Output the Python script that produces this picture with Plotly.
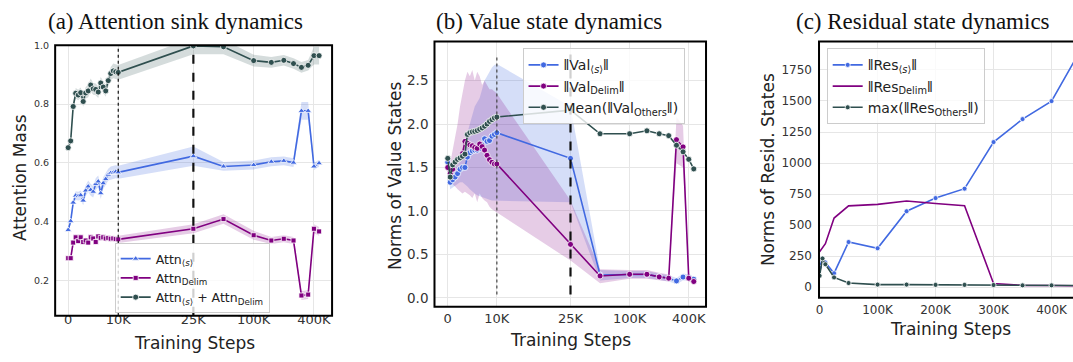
import math
import plotly.graph_objects as go

# ---------------- data ----------------
steps_ab = [0, 500, 1000, 1500, 2000, 2500, 3000, 3500, 4000, 4500, 5000,
            5500, 6000, 6500, 7000, 7500, 8000, 8500, 9000, 9500, 10000,
            25000, 50000, 100000, 150000, 200000, 250000, 300000, 350000, 400000, 450000]

tick_steps = [0, 10000, 25000, 100000, 400000]
tick_text = ["0", "10K", "25K", "100K", "400K"]

# (a) attention mass
attn_s = [0.372, 0.402, 0.465, 0.489, 0.487, 0.490, 0.472, 0.506, 0.520, 0.508, 0.502,
          0.528, 0.537, 0.497, 0.531, 0.545, 0.560, 0.566, 0.567, 0.570, 0.568,
          0.623, 0.588, 0.593, 0.604, 0.607, 0.601, 0.777, 0.777, 0.588, 0.599]
attn_s_spread = [0.008, 0.010, 0.012, 0.015, 0.015, 0.016, 0.016, 0.018, 0.020, 0.020, 0.020,
                 0.020, 0.020, 0.020, 0.020, 0.020, 0.020, 0.022, 0.022, 0.022, 0.022,
                 0.033, 0.015, 0.015, 0.015, 0.015, 0.015, 0.030, 0.030, 0.012, 0.012]
attn_delim = [0.276, 0.276, 0.329, 0.347, 0.334, 0.347, 0.331, 0.336, 0.329, 0.347, 0.343,
              0.331, 0.350, 0.345, 0.347, 0.343, 0.345, 0.342, 0.343, 0.341, 0.340,
              0.376, 0.409, 0.354, 0.336, 0.342, 0.336, 0.149, 0.152, 0.376, 0.367]
attn_delim_spread = [0.006, 0.006, 0.010, 0.010, 0.010, 0.010, 0.010, 0.010, 0.010, 0.010, 0.010,
                     0.010, 0.010, 0.010, 0.010, 0.010, 0.010, 0.010, 0.010, 0.010, 0.012,
                     0.015, 0.016, 0.015, 0.012, 0.012, 0.012, 0.015, 0.015, 0.015, 0.015]
attn_sum = [0.652, 0.675, 0.792, 0.837, 0.831, 0.839, 0.809, 0.838, 0.845, 0.865, 0.852,
            0.850, 0.841, 0.872, 0.858, 0.845, 0.880, 0.904, 0.913, 0.910, 0.908,
            0.998, 0.995, 0.948, 0.942, 0.949, 0.938, 0.925, 0.932, 0.965, 0.965]
attn_sum_spread = [0.008, 0.010, 0.012, 0.018, 0.018, 0.018, 0.018, 0.020, 0.022, 0.022, 0.020,
                   0.020, 0.020, 0.020, 0.020, 0.020, 0.020, 0.022, 0.025, 0.025, 0.025,
                   0.028, 0.025, 0.020, 0.018, 0.018, 0.018, 0.018, 0.018, 0.030, 0.030]

# (b) value-state norms
val_s = [1.56, 1.33, 1.36, 1.39, 1.43, 1.48, 1.50, 1.50, 1.62, 1.67, 1.69,
         1.70, 1.70, 1.72, 1.76, 1.83, 1.80, 1.81, 1.86, 1.88, 1.90,
         1.605, 0.264, 0.270, 0.270, 0.245, 0.225, 0.196, 0.240, 0.234, 0.215]
val_s_lo = [1.48, 1.25, 1.27, 1.29, 1.31, 1.33, 1.33, 1.30, 1.28, 1.25, 1.22,
            1.20, 1.18, 1.17, 1.16, 1.15, 1.14, 1.13, 1.12, 1.12, 1.12,
            1.10, 0.20, 0.23, 0.23, 0.21, 0.19, 0.16, 0.20, 0.20, 0.19]
val_s_hi = [1.64, 1.42, 1.46, 1.50, 1.55, 1.65, 1.70, 1.72, 1.90, 2.00, 2.10,
            2.20, 2.25, 2.30, 2.40, 2.50, 2.55, 2.60, 2.65, 2.68, 2.69,
            2.20, 0.32, 0.31, 0.31, 0.28, 0.26, 0.23, 0.28, 0.27, 0.24]
val_delim = [1.50, 1.43, 1.48, 1.55, 1.59, 1.62, 1.66, 1.80, 1.78, 1.76, 1.75,
             1.73, 1.72, 1.77, 1.74, 1.70, 1.64, 1.59, 1.56, 1.54, 1.54,
             0.616, 0.253, 0.272, 0.272, 0.242, 0.227, 1.82, 1.737, 0.227, 0.189]
val_delim_lo = [1.45, 1.33, 1.30, 1.28, 1.25, 1.22, 1.20, 1.22, 1.20, 1.18, 1.15,
                1.20, 1.10, 1.20, 1.15, 1.12, 1.10, 1.05, 1.02, 1.00, 0.98,
                0.43, 0.17, 0.22, 0.22, 0.20, 0.19, 1.55, 1.50, 0.19, 0.16]
val_delim_hi = [1.62, 1.55, 1.70, 1.85, 2.00, 2.20, 2.35, 2.50, 2.60, 2.55, 2.62,
                2.50, 2.60, 2.55, 2.45, 2.50, 2.45, 2.40, 2.40, 2.38, 2.35,
                1.12, 0.33, 0.32, 0.32, 0.29, 0.27, 2.08, 1.98, 0.26, 0.22]
val_others = [1.605, 1.39, 1.53, 1.563, 1.594, 1.61, 1.63, 1.654, 1.88, 1.90, 1.91,
              1.915, 1.925, 1.94, 1.955, 1.975, 2.00, 2.03, 2.05, 2.07, 2.08,
              2.16, 1.888, 1.888, 1.922, 1.888, 1.866, 1.756, 1.68, 1.594, 1.484]

# (c) residual-state norms
steps_c = [0, 5000, 10000, 25000, 50000, 100000, 150000, 200000, 250000,
           300000, 350000, 400000, 450000]
res_s = [158, 232, 200, 113, 364, 314, 612, 718, 794, 1169, 1354, 1499, 1910]
res_delim = [285, 320, 351, 557, 655, 667, 694, 675, 657, 30, 15, 14, 12]
res_others = [92, 232, 185, 79, 34, 21, 21, 19, 19, 18, 15, 15, 13]
c_ticks = [0, 100000, 200000, 300000, 400000]
c_tick_text = ["0", "100K", "200K", "300K", "400K"]

# ---------------- styling ----------------
BLUE = "#4169E1"
PURPLE = "#800080"
GRAY = "#2F4F4F"
BLUE_F = "rgba(65,105,225,0.22)"
PURPLE_F = "rgba(128,0,128,0.20)"
GRAY_F = "rgba(47,79,79,0.20)"
FONT = "DejaVu Sans"
W, H = 1073, 362
NORM = "‖"


def step_axis(s):
    """Piecewise axis scale: linear up to 25K, logarithmic beyond."""
    if s <= 25000:
        return s / 10000.0
    return 2.5 + 2.0 * math.log10(s / 25000.0)


xab = [step_axis(s) for s in steps_ab]
tickpos = [step_axis(s) for s in tick_steps]


def px_x(p):
    return p / W


def px_y(p):
    return 1 - p / H


fig = go.Figure()


def band(xs, lo, hi, color, xa, ya):
    fig.add_trace(go.Scatter(
        x=list(xs) + list(xs)[::-1], y=list(hi) + list(lo)[::-1],
        fill="toself", fillcolor=color, line=dict(width=0), mode="lines",
        hoverinfo="skip", showlegend=False, xaxis=xa, yaxis=ya))


def line(xs, ys, color, name, xa, ya, legend, symbol="circle", size=5, markers=True):
    fig.add_trace(go.Scatter(
        x=xs, y=ys, name=name, xaxis=xa, yaxis=ya, legend=legend,
        mode="lines+markers" if markers else "lines",
        line=dict(color=color, width=1.6),
        marker=dict(symbol=symbol, size=size, color=color,
                    line=dict(color="white", width=0.8))))


def norm(body):
    return '<span style="font-family:Liberation Sans">' + NORM + '</span>' + body + \
           '<span style="font-family:Liberation Sans">' + NORM + '</span>'


# ---- panel (a)
for vals, spr, col in [(attn_s, attn_s_spread, BLUE_F),
                       (attn_delim, attn_delim_spread, PURPLE_F),
                       (attn_sum, attn_sum_spread, GRAY_F)]:
    band(xab, [v - d for v, d in zip(vals, spr)], [v + d for v, d in zip(vals, spr)],
         col, "x", "y")
line(xab, attn_s, BLUE, "Attn<sub>⟨<i>s</i>⟩</sub>", "x", "y", "legend", "triangle-up", 6)
line(xab, attn_delim, PURPLE, "Attn<sub>Delim</sub>", "x", "y", "legend", "square", 5)
line(xab, attn_sum, GRAY, "Attn<sub>⟨<i>s</i>⟩</sub> + Attn<sub>Delim</sub>", "x", "y",
     "legend", "circle", 6)

# ---- panel (b)
band(xab, val_s_lo, val_s_hi, BLUE_F, "x2", "y2")
band(xab, val_delim_lo, val_delim_hi, PURPLE_F, "x2", "y2")
line(xab, val_s, BLUE, norm("Val<sub>⟨<i>s</i>⟩</sub>"), "x2", "y2", "legend2", "circle", 6)
line(xab, val_delim, PURPLE, norm("Val<sub>Delim</sub>"), "x2", "y2", "legend2", "circle", 6)
line(xab, val_others, GRAY, "Mean(" + norm("Val<sub>Others</sub>") + ")", "x2", "y2",
     "legend2", "circle", 6)

# ---- panel (c)
line(steps_c, res_s, BLUE, norm("Res<sub>⟨<i>s</i>⟩</sub>"), "x3", "y3", "legend3", "circle", 5)
line(steps_c, res_delim, PURPLE, norm("Res<sub>Delim</sub>"), "x3", "y3", "legend3",
     markers=False)
line(steps_c, res_others, GRAY, "max(" + norm("Res<sub>Others</sub>") + ")", "x3", "y3",
     "legend3", "circle", 5)

GRID = "#e6e6e6"
tickfont_big = dict(family=FONT, size=13, color="#333")

# panel frames (pixel boxes: left, top, right, bottom)
box_a = (52.3, 40, 330, 315)
box_b = (432.7, 36, 705, 305.7)
box_c = (818.3, 36, 1095, 296.7)


def xax(box, rng, tv, tt, font, shift):
    # tick labels hang from a free axis line positioned `shift` px above the frame bottom
    return dict(domain=[px_x(box[0]), min(1.0, px_x(box[2]))], range=rng, tickvals=tv,
                ticktext=tt, showgrid=True, gridcolor=GRID, gridwidth=1, zeroline=False,
                ticks="", tickfont=font, showline=False, anchor="free",
                position=px_y(box[3] - shift), ticklabelstandoff=0)


def yax(box, rng, tv, font, anchor):
    return dict(domain=[px_y(box[3]), px_y(box[1])], range=rng, tickvals=tv, showgrid=True,
                gridcolor=GRID, gridwidth=1, zeroline=False, ticks="", tickfont=font,
                showline=False, anchor=anchor, ticklabelstandoff=5)


xa = xax(box_a, [-0.26, 5.27], tickpos, tick_text, tickfont_big, 6)
ya = yax(box_a, [0.08, 1.0], [0.2, 0.4, 0.6, 0.8, 1.0], dict(family=FONT, size=9.5, color="#333"), "x")
ya.update(tickformat=".1f")

xb = xax(box_b, [-0.27, 5.26], tickpos, tick_text, tickfont_big, -2)
yb = yax(box_b, [-0.10, 2.95], [0, 0.5, 1.0, 1.5, 2.0, 2.5], dict(family=FONT, size=13.5, color="#333"), "x2")
yb.update(tickformat=".1f")

xc = xax(box_c, [-1000, 437000], c_ticks, c_tick_text, dict(family=FONT, size=12, color="#333"), -3)
yc = yax(box_c, [-85, 1980], [0, 250, 500, 750, 1000, 1250, 1500, 1750],
         dict(family=FONT, size=12, color="#333"), "x3")
yc.update(ticklabelstandoff=6)

shapes = []
# vertical markers at 10K (dotted) and 25K (dashed)
for xr, yr, y0, y1, yref_is_domain in [("x", "y", 0, 1, True), ("x2", "y2", 0.04, 2.8, False)]:
    shapes.append(dict(type="line", xref=xr, yref=(yr + " domain") if yref_is_domain else yr,
                       x0=step_axis(10000), x1=step_axis(10000), y0=y0, y1=y1,
                       line=dict(color="#111" if yref_is_domain else "#444", width=1.2, dash="dot"),
                       layer="above"))
    shapes.append(dict(type="line", xref=xr, yref=(yr + " domain") if yref_is_domain else yr,
                       x0=step_axis(25000), x1=step_axis(25000), y0=y0, y1=y1,
                       line=dict(color="#111", width=2.2, dash="dash"), layer="above"))
# black frames around the panels ((c) continues past the right edge of the picture)
for bx in (box_a, box_b, box_c):
    shapes.append(dict(type="rect", xref="paper", yref="paper", x0=px_x(bx[0]), x1=px_x(bx[2]),
                       y0=px_y(bx[3]), y1=px_y(bx[1]), line=dict(color="black", width=2),
                       fillcolor="rgba(0,0,0,0)", layer="above"))

title_font = dict(family="Liberation Serif", size=23, color="#111")
label_font = dict(family=FONT, size=17, color="#222")
annotations = [
    dict(text="(a) Attention sink dynamics", x=px_x(173), y=px_y(16), font=title_font),
    dict(text="(b) Value state dynamics", x=px_x(548), y=px_y(16), font=title_font),
    dict(text="(c) Residual state dynamics", x=px_x(923), y=px_y(16), font=title_font),
    dict(text="Attention Mass", x=px_x(17), y=px_y(174), textangle=-90, font=label_font),
    dict(text="Norms of Value States", x=px_x(393), y=px_y(172), textangle=-90, font=label_font),
    dict(text="Norms of Resid. States", x=px_x(767), y=px_y(166), textangle=-90, font=label_font),
    dict(text="Training Steps", x=px_x(192), y=px_y(343), font=label_font),
    dict(text="Training Steps", x=px_x(569), y=px_y(340), font=label_font),
    dict(text="Training Steps", x=px_x(950), y=px_y(328), font=label_font),
]
for a in annotations:
    a.update(xref="paper", yref="paper", showarrow=False, xanchor="center", yanchor="middle")

leg_common = dict(bgcolor="rgba(255,255,255,0.8)", bordercolor="#cccccc", borderwidth=1,
                  xanchor="left", yanchor="top", tracegroupgap=0)
fig.update_layout(
    width=W, height=H, margin=dict(l=0, r=0, t=0, b=0),
    paper_bgcolor="white", plot_bgcolor="white",
    font=dict(family=FONT, color="#222"),
    xaxis=xa, yaxis=ya, xaxis2=xb, yaxis2=yb, xaxis3=xc, yaxis3=yc,
    shapes=shapes, annotations=annotations,
    legend=dict(x=px_x(112), y=px_y(241), font=dict(family=FONT, size=12.5, color="#222"), **leg_common),
    legend2=dict(x=px_x(521), y=px_y(43), font=dict(family=FONT, size=14, color="#222"), **leg_common),
    legend3=dict(x=px_x(826), y=px_y(43), font=dict(family=FONT, size=14, color="#222"), **leg_common),
)

fig.write_html("out.html")
